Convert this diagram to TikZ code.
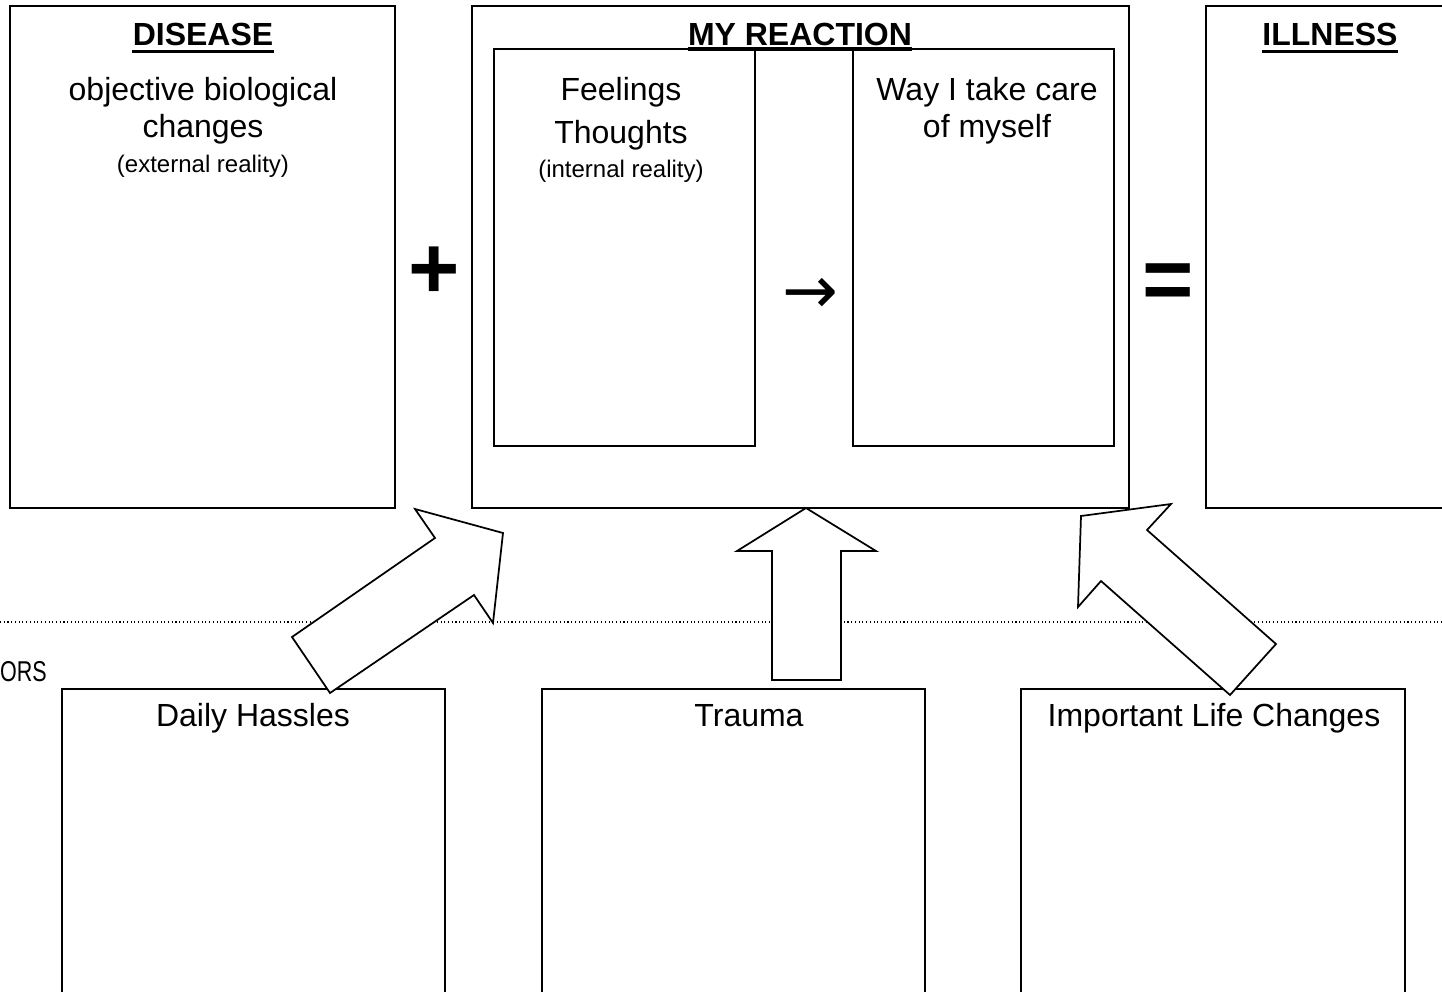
\documentclass[tikz,border=0pt]{standalone}
\usepackage{fontspec}
\setmainfont{Liberation Sans}
\newfontfamily\arrowfont{DejaVu Sans}
\newcommand{\txtbody}{\fontsize{24}{28}\selectfont}
\newcommand{\txtsmall}{\fontsize{18}{22}\selectfont}
\newcommand{\txthead}{\fontsize{24}{28}\selectfont\bfseries}
\newcommand{\txtsign}{\fontsize{66}{70}\selectfont\bfseries}

\begin{document}
\begin{tikzpicture}[x=0.75pt, y=-0.75pt,
    frame/.style={line width=1.6pt},
    innerframe/.style={line width=1.3pt},
    blockarrow/.style={draw, fill=white, line width=1.3pt, line join=miter},
    txt/.style={inner sep=0pt, anchor=base},
    headrule/.style={line width=2.3pt}]
    \useasboundingbox (0, 0) rectangle (1442, 992);

    % dotted line between the two rows
    \draw[dotted, line width=0.8pt] (0, 622) -- (1442, 622);

    % top row
    \draw[frame] (10, 6) rectangle (395, 508);
    \draw[frame] (472, 6) rectangle (1129, 508);
    \draw[innerframe] (494, 49) rectangle (755, 446);
    \draw[innerframe] (853, 49) rectangle (1114, 446);
    \draw[frame] (1206, 6) rectangle (1460, 508);

    \node[txt] (disease) at (203, 45) {\txthead DISEASE};
    \draw[headrule] ([yshift=-5pt]disease.base west) -- ([yshift=-5pt]disease.base east);
    \node[txt] (objective) at (203, 100) {\txtbody objective biological};
    \node[txt] (changes) at (203, 137) {\txtbody changes};
    \node[txt] (external) at (203, 172) {\txtsmall (external reality)};

    \node[txt] (reaction) at (800, 45) {\txthead MY REACTION};
    \draw[headrule] ([yshift=-3pt]reaction.base west) -- ([yshift=-3pt]reaction.base east);
    \node[txt] (feelings) at (621, 100) {\txtbody Feelings};
    \node[txt] (thoughts) at (621, 143) {\txtbody Thoughts};
    \node[txt] (internal) at (621, 177) {\txtsmall (internal reality)};
    \node[txt] (care) at (987, 100) {\txtbody Way I take care};
    \node[txt] (myself) at (987, 137) {\txtbody of myself};
    \node[inner sep=0pt] (leadsto) at (810, 296) {\arrowfont\fontsize{50}{52}\selectfont →};

    \node[txt] (illness) at (1330, 45) {\txthead ILLNESS};
    \draw[headrule] ([yshift=-5pt]illness.base west) -- ([yshift=-5pt]illness.base east);

    \node[inner sep=0pt] (plus) at (434.5, 273) {\txtsign +};
    \node[inner sep=0pt] (equals) at (1168.5, 287) {\txtsign =};

    % bottom row
    \node[txt, anchor=base east, xscale=0.75] (factors) at (47, 681) {\fontsize{21.5}{24}\selectfont ORS};
    \draw[frame] (62, 689) rectangle (445, 1000);
    \draw[frame] (542, 689) rectangle (925, 1000);
    \draw[frame] (1021, 689) rectangle (1405, 1000);
    \node[txt] (hassles) at (253, 726) {\txtbody Daily Hassles};
    \node[txt] (trauma) at (749, 726) {\txtbody Trauma};
    \node[txt] (lifechanges) at (1214, 726) {\txtbody Important Life Changes};

    % block arrows
    \draw[blockarrow] (503, 533) -- (415, 509) -- (435, 538) -- (292, 637)
        -- (330, 693) -- (474, 595) -- (493, 623) -- cycle;
    \draw[blockarrow] (806, 508) -- (876, 551) -- (841, 551) -- (841, 680)
        -- (772, 680) -- (772, 551) -- (737, 551) -- cycle;
    \draw[blockarrow] (1081, 516) -- (1171, 504) -- (1147, 530) -- (1276, 644)
        -- (1230, 695) -- (1101, 581) -- (1078, 607) -- cycle;
\end{tikzpicture}
\end{document}
